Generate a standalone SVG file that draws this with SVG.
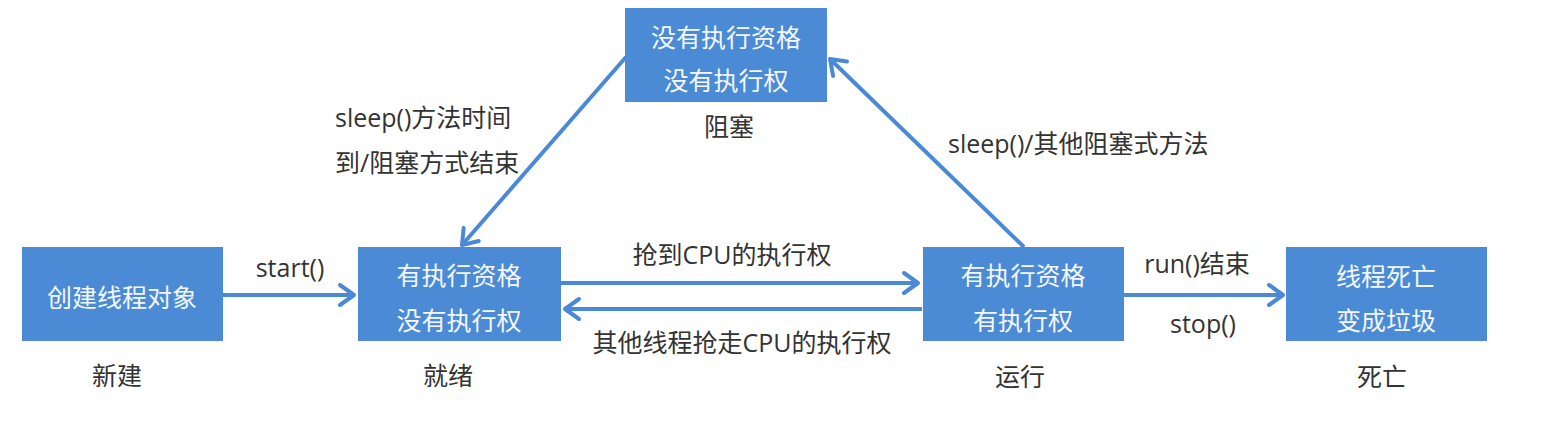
<svg xmlns="http://www.w3.org/2000/svg" width="1548" height="437" viewBox="0 0 1548 437">
<style>
.box{fill:#4B8BD6;}
.bt{font-family:"Open Sans","Noto Sans CJK SC",sans-serif;font-size:25px;fill:#F4F7FC;text-anchor:middle;dominant-baseline:central;}
.lb{font-family:"Open Sans","Noto Sans CJK SC",sans-serif;font-size:25px;fill:#333333;dominant-baseline:central;}
.m{text-anchor:middle;}
.cn{fill:none;stroke:#4A89D6;stroke-width:4;marker-end:url(#ah);}
</style>
<defs>
<marker id="ah" markerUnits="userSpaceOnUse" markerWidth="30" markerHeight="30" viewBox="-20 -15 30 30" refX="0" refY="0" orient="auto">
<path d="M-14,-10 L0,0 L-14,10" fill="none" stroke="#4A89D6" stroke-width="4" stroke-linecap="round" stroke-linejoin="round"/>
</marker>
</defs>
<rect width="1548" height="437" fill="#FFFFFF"/>
<g id="connectors">
<line class="cn" x1="223" y1="295" x2="354" y2="295"/>
<line class="cn" x1="561" y1="283" x2="918" y2="283"/>
<line class="cn" x1="922" y1="309" x2="565" y2="309"/>
<line class="cn" x1="1124" y1="295" x2="1283" y2="295"/>
<line class="cn" x1="626" y1="57" x2="462" y2="245"/>
<line class="cn" x1="1024" y1="247" x2="830" y2="59"/>
<text class="lb m" x="290" y="267">start()</text>
<text class="lb m" x="732" y="254">抢到CPU的执行权</text>
<text class="lb m" x="742" y="342">其他线程抢走CPU的执行权</text>
<text class="lb m" x="1197" y="263">run()结束</text>
<text class="lb m" x="1203" y="323">stop()</text>
<text class="lb" x="335" y="117">sleep()方法时间</text>
<text class="lb" x="335" y="162">到/阻塞方式结束</text>
<text class="lb" x="948" y="143">sleep()/其他阻塞式方法</text>
</g>
<g id="node-new">
<rect class="box" x="22" y="247" width="201" height="94"/>
<text class="bt" x="122" y="297">创建线程对象</text>
<text class="lb m" x="117" y="375">新建</text>
</g>
<g id="node-ready">
<rect class="box" x="358" y="247" width="203" height="94"/>
<text class="bt" x="459" y="275">有执行资格</text>
<text class="bt" x="459" y="320">没有执行权</text>
<text class="lb m" x="448" y="375">就绪</text>
</g>
<g id="node-blocked">
<rect class="box" x="625" y="8" width="202" height="94"/>
<text class="bt" x="726" y="37">没有执行资格</text>
<text class="bt" x="726" y="80">没有执行权</text>
<text class="lb m" x="729" y="126">阻塞</text>
</g>
<g id="node-running">
<rect class="box" x="923" y="247" width="201" height="94"/>
<text class="bt" x="1023" y="275">有执行资格</text>
<text class="bt" x="1023" y="320">有执行权</text>
<text class="lb m" x="1020" y="376">运行</text>
</g>
<g id="node-dead">
<rect class="box" x="1286" y="247" width="201" height="94"/>
<text class="bt" x="1386" y="276">线程死亡</text>
<text class="bt" x="1386" y="320">变成垃圾</text>
<text class="lb m" x="1382" y="376">死亡</text>
</g>
</svg>
